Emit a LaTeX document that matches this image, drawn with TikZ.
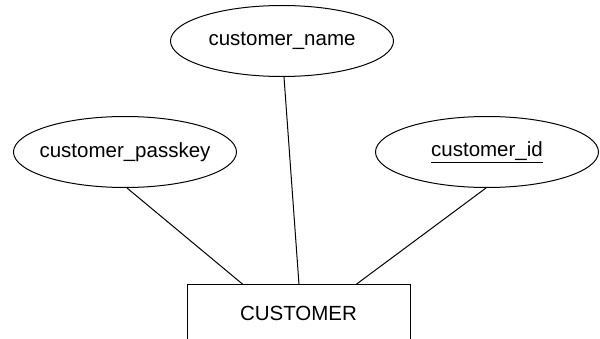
\documentclass[tikz,border=0pt]{standalone}
\usepackage{fontspec}
\setmainfont{Liberation Sans}
\usetikzlibrary{shapes.geometric}
\begin{document}
\begin{tikzpicture}[x=1pt,y=-1pt,
  attr/.style={draw=black, line width=1pt, ellipse, inner sep=0pt, minimum width=223pt, minimum height=71pt, font=\fontsize{20.5}{24}\selectfont},
  entity/.style={draw=black, line width=1pt, rectangle, inner sep=0pt, minimum width=223pt, minimum height=76pt},
  lbl/.style={font=\fontsize{20.5}{24}\selectfont, inner sep=0pt},
  conn/.style={line width=1pt, draw=black}]
\useasboundingbox (0,0) rectangle (600,339);
\clip (0,0) rectangle (600,339);
\fill[white] (0,0) rectangle (600,339);
\node[attr] (name) at (282,41) {\makebox[0pt]{customer\_name}};
\node[attr] (passkey) at (125,152) {\makebox[0pt]{customer\_passkey}};
\node[attr] (id) at (487,152) {\makebox[0pt]{\underline{customer\_id}}};
\node[entity] (cust) at (298.5,323) {};
\node[lbl] (custlabel) at (298.5,313) {CUSTOMER};
\draw[conn] ([xshift=2pt]name.south) -- ([xshift=0.5pt]cust.north);
\draw[conn] ([xshift=2pt]passkey.south) -- ([xshift=-55.5pt]cust.north);
\draw[conn] ([xshift=-1pt]id.south) -- ([xshift=57.5pt]cust.north);
\end{tikzpicture}
\end{document}
